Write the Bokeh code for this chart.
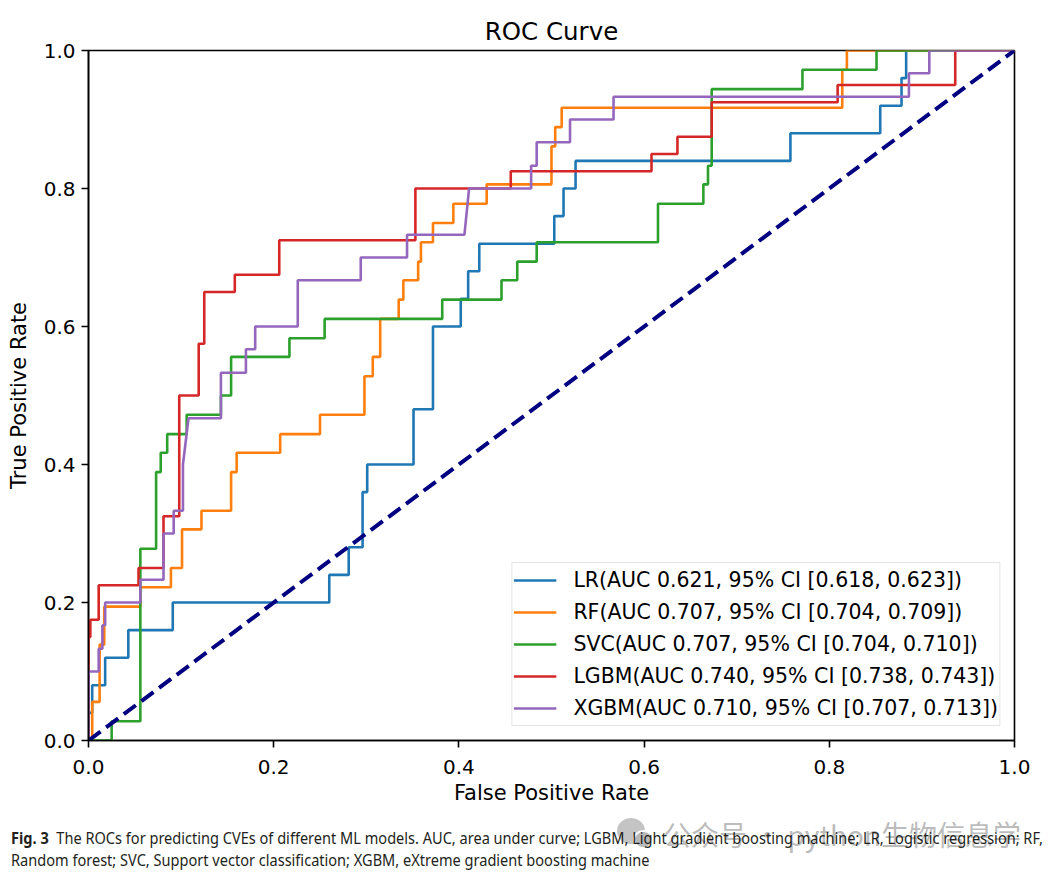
from bokeh.plotting import figure
from bokeh.models import Range1d, FixedTicker, Div
from bokeh.layouts import column
from bokeh.embed import file_html
from bokeh.resources import INLINE

# ---------------- data ----------------
lr_fpr = [0.0, 0.0, 0.004, 0.004, 0.018, 0.018, 0.043, 0.043, 0.091, 0.091, 0.260, 0.260, 0.281, 0.281,
          0.296, 0.296, 0.301, 0.301, 0.351, 0.351, 0.372, 0.372, 0.402, 0.402, 0.410, 0.410, 0.422, 0.422,
          0.503, 0.503, 0.513, 0.513, 0.526, 0.526, 0.758, 0.758, 0.855, 0.855, 0.878, 0.878, 0.883, 0.883, 1.0]
lr_tpr = [0.0, 0.04, 0.04, 0.08, 0.08, 0.12, 0.12, 0.16, 0.16, 0.20, 0.20, 0.24, 0.24, 0.28, 0.28, 0.36,
          0.36, 0.40, 0.40, 0.48, 0.48, 0.60, 0.60, 0.64, 0.64, 0.68, 0.68, 0.72, 0.72, 0.76, 0.76, 0.80,
          0.80, 0.84, 0.84, 0.88, 0.88, 0.92, 0.92, 0.96, 0.96, 1.0, 1.0]

rf_fpr = [0.0, 0.004, 0.004, 0.012, 0.012, 0.017, 0.017, 0.056, 0.056, 0.089, 0.089, 0.101, 0.101, 0.122,
          0.122, 0.154, 0.154, 0.160, 0.160, 0.207, 0.207, 0.250, 0.250, 0.298, 0.298, 0.307, 0.307, 0.315,
          0.315, 0.335, 0.335, 0.340, 0.340, 0.356, 0.356, 0.359, 0.359, 0.372, 0.372, 0.394, 0.394, 0.430,
          0.430, 0.500, 0.500, 0.504, 0.504, 0.511, 0.511, 0.814, 0.814, 0.819, 0.819, 1.0]
rf_tpr = [0.0, 0.0, 0.056, 0.056, 0.139, 0.139, 0.194, 0.194, 0.222, 0.222, 0.250, 0.250, 0.306, 0.306,
          0.333, 0.333, 0.389, 0.389, 0.417, 0.417, 0.444, 0.444, 0.472, 0.472, 0.528, 0.528, 0.556, 0.556,
          0.611, 0.611, 0.639, 0.639, 0.667, 0.667, 0.694, 0.694, 0.722, 0.722, 0.750, 0.750, 0.778, 0.778,
          0.806, 0.806, 0.861, 0.861, 0.889, 0.889, 0.917, 0.917, 0.972, 0.972, 1.0, 1.0]

svc_fpr = [0.0, 0.025, 0.025, 0.056, 0.056, 0.073, 0.073, 0.078, 0.078, 0.085, 0.085, 0.106, 0.106, 0.143,
           0.143, 0.154, 0.154, 0.217, 0.217, 0.255, 0.255, 0.382, 0.382, 0.446, 0.446, 0.463, 0.463, 0.484,
           0.484, 0.615, 0.615, 0.664, 0.664, 0.669, 0.669, 0.673, 0.673, 0.771, 0.771, 0.851, 0.851, 1.0]
svc_tpr = [0.0, 0.0, 0.028, 0.028, 0.278, 0.278, 0.389, 0.389, 0.417, 0.417, 0.444, 0.444, 0.472, 0.472,
           0.500, 0.500, 0.556, 0.556, 0.583, 0.583, 0.611, 0.611, 0.639, 0.639, 0.667, 0.667, 0.694, 0.694,
           0.722, 0.722, 0.778, 0.778, 0.806, 0.806, 0.833, 0.833, 0.944, 0.944, 0.972, 0.972, 1.0, 1.0]

lgbm_fpr = [0.0, 0.0, 0.002, 0.002, 0.011, 0.011, 0.054, 0.054, 0.081, 0.081, 0.098, 0.098, 0.119, 0.119,
            0.125, 0.125, 0.158, 0.158, 0.206, 0.206, 0.353, 0.353, 0.456, 0.456, 0.608, 0.608, 0.636, 0.636,
            0.673, 0.673, 0.809, 0.809, 0.936, 0.936, 1.0]
lgbm_tpr = [0.0, 0.150, 0.150, 0.175, 0.175, 0.225, 0.225, 0.250, 0.250, 0.325, 0.325, 0.500, 0.500, 0.575,
            0.575, 0.650, 0.650, 0.675, 0.675, 0.725, 0.725, 0.800, 0.800, 0.825, 0.825, 0.850, 0.850, 0.875,
            0.875, 0.925, 0.925, 0.950, 0.950, 1.0, 1.0]

xgb_fpr = [0.0, 0.0, 0.011, 0.011, 0.015, 0.015, 0.018, 0.018, 0.056, 0.056, 0.081, 0.081, 0.092, 0.092,
           0.102, 0.102, 0.108, 0.143, 0.143, 0.170, 0.170, 0.180, 0.180, 0.226, 0.226, 0.294, 0.294, 0.344,
           0.344, 0.406, 0.411, 0.478, 0.478, 0.484, 0.484, 0.520, 0.520, 0.567, 0.567, 0.886, 0.886, 0.908,
           0.908, 1.0]
xgb_tpr = [0.0, 0.100, 0.100, 0.133, 0.133, 0.167, 0.167, 0.200, 0.200, 0.233, 0.233, 0.300, 0.300, 0.333,
           0.333, 0.400, 0.467, 0.467, 0.533, 0.533, 0.567, 0.567, 0.600, 0.600, 0.667, 0.667, 0.700, 0.700,
           0.733, 0.733, 0.800, 0.800, 0.833, 0.833, 0.867, 0.867, 0.900, 0.900, 0.933, 0.933, 0.967, 0.967,
           1.0, 1.0]

chance_fpr = [0.0, 1.0]
chance_tpr = [0.0, 1.0]

series_labels = [
    "LR(AUC 0.621, 95% CI [0.618, 0.623])",
    "RF(AUC 0.707, 95% CI [0.704, 0.709])",
    "SVC(AUC 0.707, 95% CI [0.704, 0.710])",
    "LGBM(AUC 0.740, 95% CI [0.738, 0.743])",
    "XGBM(AUC 0.710, 95% CI [0.707, 0.713])",
]
series_colors = ["#1f77b4", "#ff7f0e", "#2ca02c", "#d62728", "#9467bd"]

tick_values = [0.0, 0.2, 0.4, 0.6, 0.8, 1.0]
tick_labels = ["0.0", "0.2", "0.4", "0.6", "0.8", "1.0"]

title_text = "ROC Curve"
x_label = "False Positive Rate"
y_label = "True Positive Rate"
caption_bold = "Fig. 3"
caption_line1 = ("The ROCs for predicting CVEs of different ML models. AUC, area under curve; LGBM, "
                 "Light gradient boosting machine; LR, Logistic regression; RF,")
caption_line2 = "Random forest; SVC, Support vector classification; XGBM, eXtreme gradient boosting machine"
watermark_text = "公众号 · python生物信息学"

# ---------------- figure ----------------
FONT = "DejaVu Sans"
p = figure(width=1045, height=807, x_range=Range1d(0, 1), y_range=Range1d(0, 1),
           output_backend="svg", toolbar_location=None, title=title_text,
           min_border_left=88, min_border_right=31, min_border_top=50, min_border_bottom=66)
p.background_fill_color = "white"
p.border_fill_color = "white"
p.outline_line_color = "black"
p.outline_line_width = 1.6
p.outline_line_alpha = 1.0
p.grid.visible = False

p.title.text_font = FONT
p.title.text_font_size = "24.5px"
p.title.text_font_style = "normal"
p.title.align = "center"
p.title.text_color = "black"

overrides = {v: s for v, s in zip(tick_values, tick_labels)}
for ax, lab, stand, lstand in ((p.xaxis, x_label, 4, 12), (p.yaxis, y_label, 10, 6)):
    ax.ticker = FixedTicker(ticks=tick_values, minor_ticks=[])
    ax.major_label_overrides = overrides
    ax.axis_label = lab
    ax.axis_label_text_font = FONT
    ax.axis_label_text_font_size = "21px"
    ax.axis_label_text_font_style = "normal"
    ax.axis_label_text_color = "black"
    ax.axis_label_standoff = stand
    ax.major_label_text_font = FONT
    ax.major_label_text_font_size = "20px"
    ax.major_label_text_color = "black"
    ax.major_label_standoff = lstand
    ax.axis_line_width = 1.6
    ax.axis_line_color = "black"
    ax.major_tick_line_width = 1.6
    ax.major_tick_line_color = "black"
    ax.major_tick_out = 7
    ax.major_tick_in = 0
    ax.minor_tick_out = 0
    ax.minor_tick_in = 0

series = [(lr_fpr, lr_tpr), (rf_fpr, rf_tpr), (svc_fpr, svc_tpr), (lgbm_fpr, lgbm_tpr), (xgb_fpr, xgb_tpr)]
for (fx, ty), lab, col in zip(series, series_labels, series_colors):
    p.line(fx, ty, line_color=col, line_width=2.6, legend_label=lab)

p.line(chance_fpr, chance_tpr, line_color="#000080", line_width=4, line_dash="15 7")

lg = p.legend[0]
lg.location = "bottom_right"
lg.margin = 14
lg.padding = 1
lg.spacing = 0
lg.glyph_width = 43
lg.glyph_height = 32
lg.label_height = 32
lg.label_standoff = 17
lg.label_text_font = FONT
lg.label_text_font_size = "20.5px"
lg.label_text_color = "black"
lg.border_line_color = "#cccccc"
lg.border_line_width = 1.2
lg.background_fill_alpha = 0.85

# ---------------- caption ----------------
caption_html = f"""
<div style="position:relative;width:1045px;height:64px;overflow:hidden;background:white;">
  <div style="position:absolute;left:612px;top:6px;width:28px;height:26px;border-radius:50%;background:#c4c4c4;"></div>
  <div style="position:absolute;left:628px;top:18px;width:21px;height:19px;border-radius:50%;background:#b8b8b8;border:2px solid white;"></div>
  <div style="position:absolute;left:658px;top:6px;font-family:'Noto Sans CJK SC';font-size:28px;line-height:32px;color:rgba(130,130,130,0.55);white-space:nowrap;">{watermark_text}</div>
  <div style="position:absolute;left:6px;top:15px;font-family:'Noto Sans';font-size:16px;line-height:22px;color:#231f20;white-space:nowrap;transform:scaleX(0.91);transform-origin:0 0;">
    <span style="font-weight:bold;">{caption_bold}</span>&nbsp;&nbsp;{caption_line1}<br>{caption_line2}
  </div>
</div>
"""
div = Div(text=caption_html, width=1045, height=64)

layout = column(p, div)
open("out.html", "w").write(file_html(layout, INLINE))
